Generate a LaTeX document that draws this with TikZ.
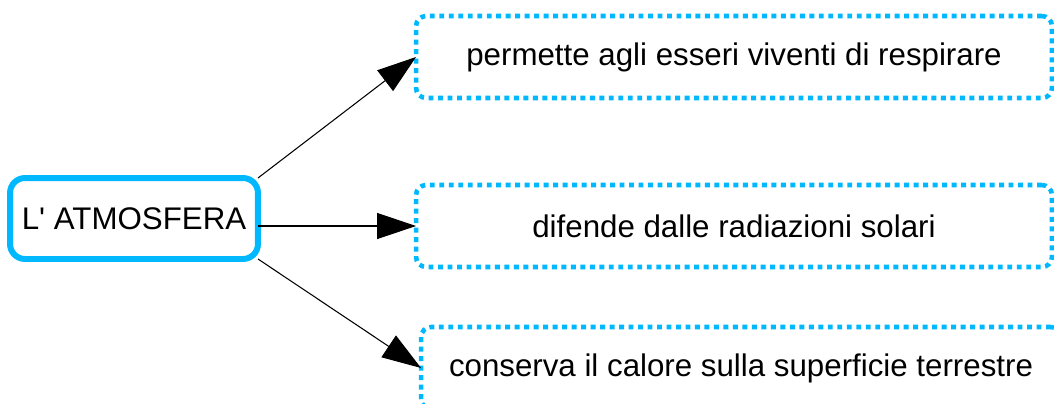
\documentclass[tikz,border=0pt]{standalone}
\usepackage{fontspec}
\setmainfont{Liberation Sans}
\usepackage{tikz}
\usetikzlibrary{arrows.meta,positioning}
\definecolor{sky}{HTML}{00B8FF}

\begin{document}
\begin{tikzpicture}[x=0.02cm,y=-0.02cm,
  font=\fontsize{17.8pt}{21pt}\selectfont,
  topic/.style={draw=sky,line width=3.4pt,rounded corners=0.3cm,minimum width=4.96cm,minimum height=1.62cm,inner sep=0pt,outer sep=0pt},
  fact/.style={draw=sky,line width=2.6pt,dash pattern=on 2.8pt off 2.6pt,rounded corners=0.2cm,minimum height=1.64cm,inner sep=0pt,outer sep=0pt},
  link/.style={line width=0.6pt,-{Triangle[length=0.78cm,width=0.52cm]}}]
  \useasboundingbox (0,0) rectangle (1054,403);
  % the central idea and its three facts
  \node[topic] (atm) at (134,218.5) {L\textquotesingle{} ATMOSFERA};
  \node[fact,minimum width=12.72cm] (resp) at (734,57) {permette agli esseri viventi di respirare};
  \node[fact,minimum width=12.72cm] (rad) at (734,226) {difende dalle radiazioni solari};
  \node[fact,minimum width=12.8cm] (cal) at (741,368) {conserva il calore sulla superficie terrestre};
  \draw[link] (atm.north east) -- (resp.west);
  \draw[link] (atm.east |- rad.west) -- (rad.west);
  \draw[link] (atm.south east) -- (cal.west);
\end{tikzpicture}
\end{document}
